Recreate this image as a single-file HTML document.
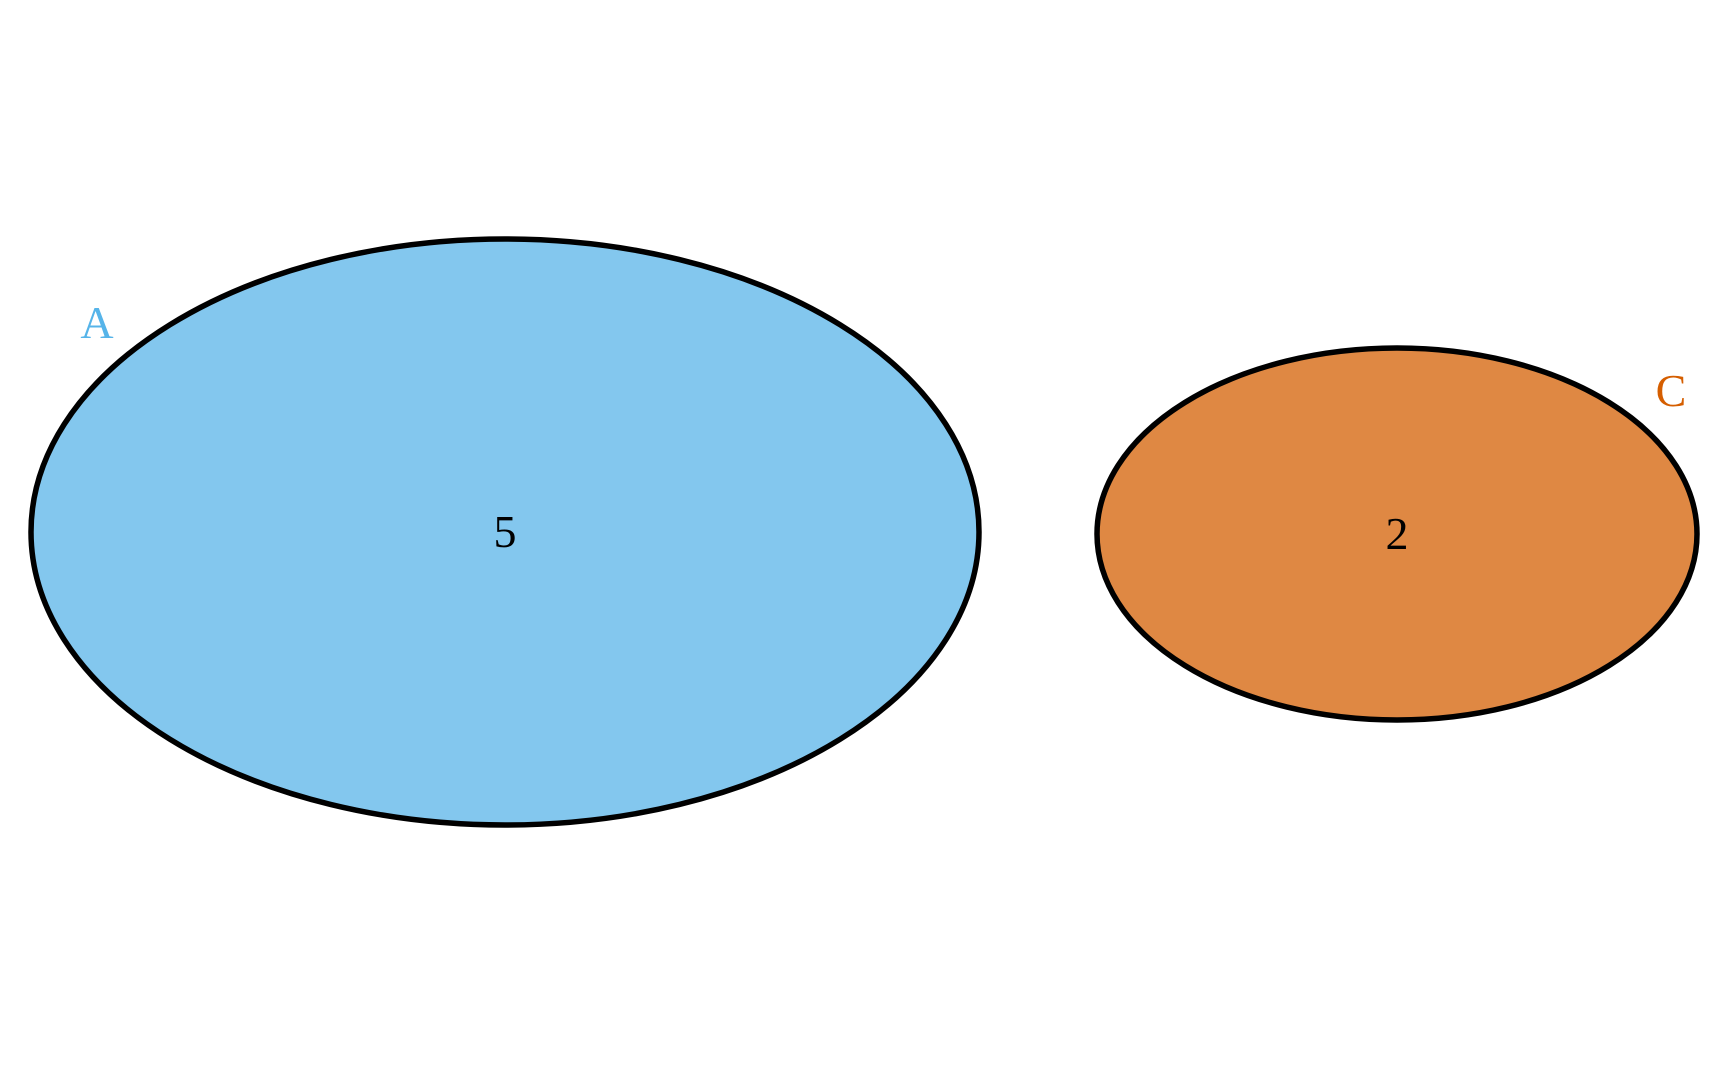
<!DOCTYPE html>
<html><head><meta charset="utf-8"><style>html,body{margin:0;padding:0;background:#fff;}svg{display:block}</style></head>
<body>
<svg id="venn" width="1728" height="1067" viewBox="0 0 1728 1067"></svg>
<script>
const setNames = ["A", "C"];
const setCounts = [5, 2];
const setColors = ["#83C7EE", "#DF8843"];
const labelColors = ["#56B4E9", "#D55E00"];
const svg = document.getElementById('venn');
const NS = 'http://www.w3.org/2000/svg';
const geo = [
  {cx: 505, cy: 532, rx: 474, ry: 293, lx: 97, ly: 338},
  {cx: 1397, cy: 534, rx: 300, ry: 186, lx: 1671, ly: 406}
];
setNames.forEach((n, i) => {
  const g = geo[i];
  const e = document.createElementNS(NS, 'ellipse');
  
  
  e.setAttribute('cx', g.cx); e.setAttribute('cy', g.cy);
  e.setAttribute('rx', g.rx); e.setAttribute('ry', g.ry);
  e.setAttribute('fill', setColors[i]); e.setAttribute('stroke', '#000'); e.setAttribute('stroke-width', '5.5');
  svg.appendChild(e);
  const t = document.createElementNS(NS, 'text');
  
  
  t.setAttribute('x', g.cx); t.setAttribute('y', g.cy + 15);
  t.setAttribute('text-anchor', 'middle');
  t.setAttribute('font-family', '"Liberation Serif", serif'); t.setAttribute('font-size', '46');
  t.setAttribute('fill', '#000');
  t.textContent = setCounts[i];
  svg.appendChild(t);
  const l = document.createElementNS(NS, 'text');
  
  
  l.setAttribute('x', g.lx); l.setAttribute('y', g.ly);
  l.setAttribute('text-anchor', 'middle');
  l.setAttribute('font-family', '"Liberation Serif", serif'); l.setAttribute('font-size', '46');
  l.setAttribute('fill', labelColors[i]);
  l.textContent = n;
  svg.appendChild(l);
});
</script>
</body></html>
